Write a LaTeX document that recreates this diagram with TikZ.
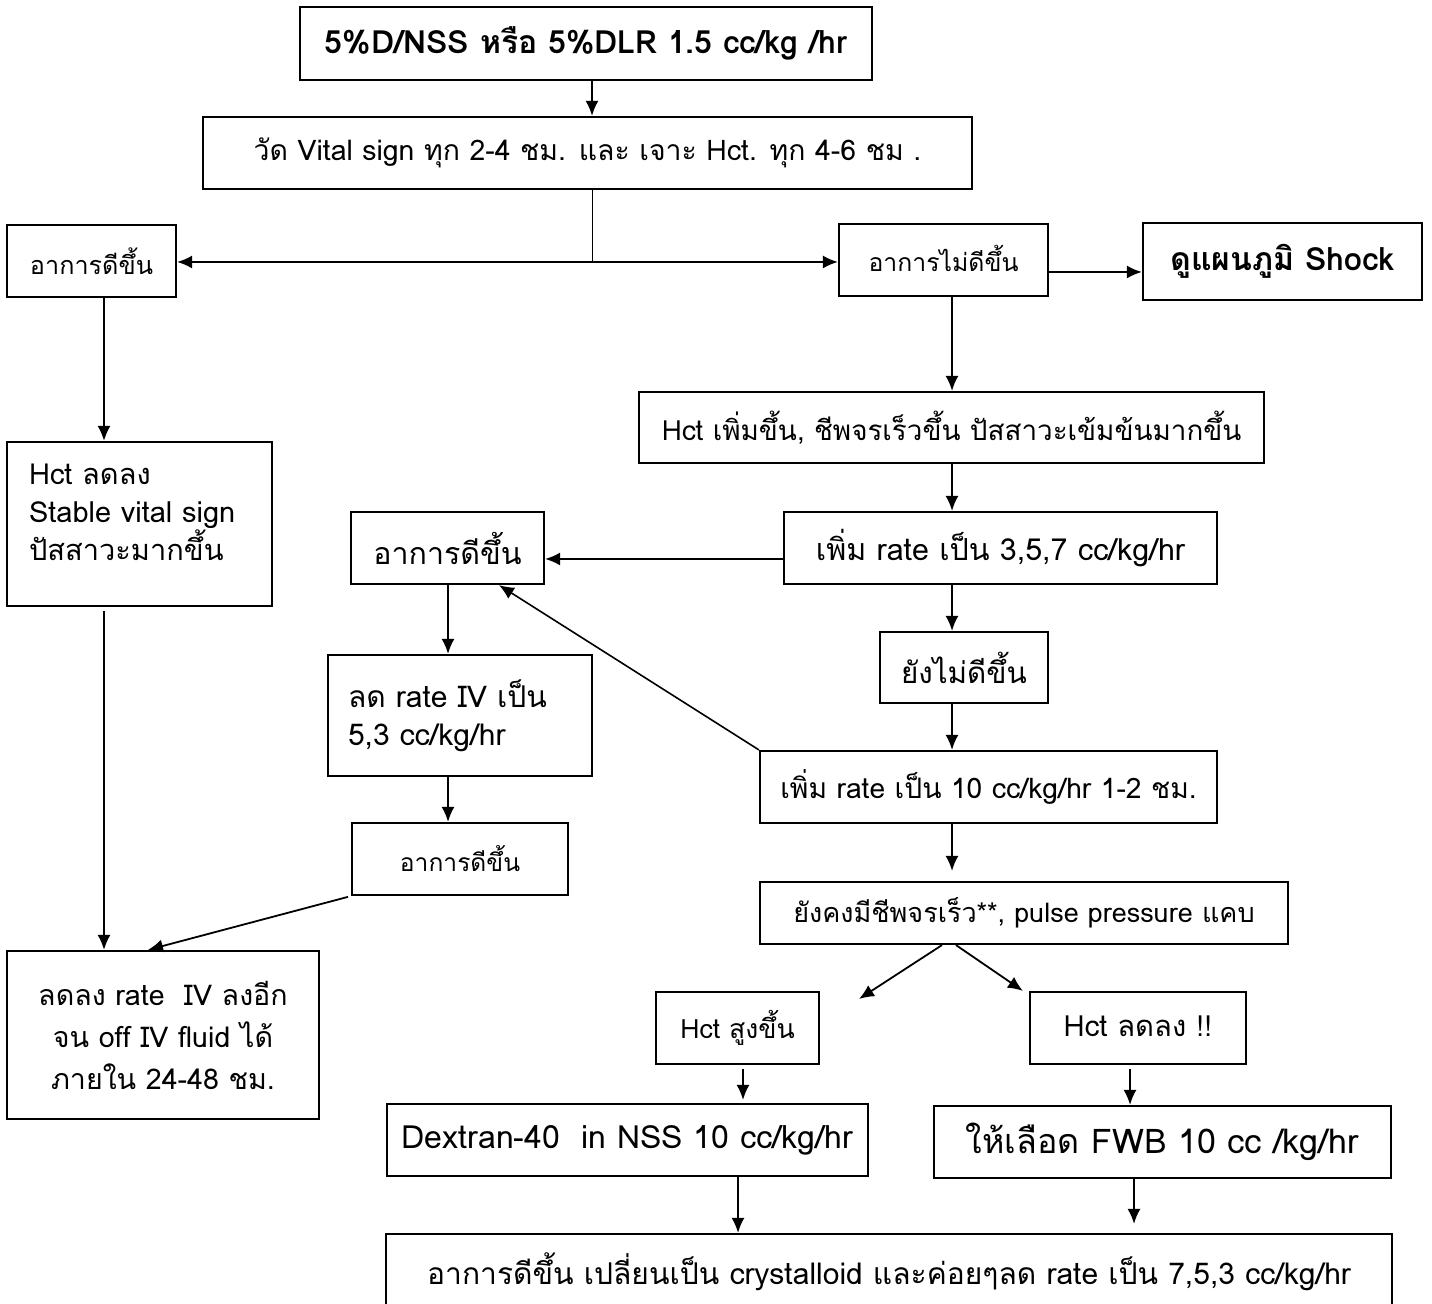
\documentclass[tikz,border=0pt]{standalone}
\usepackage{fontspec}
\setmainfont{Loma}[Script=Thai]
\usetikzlibrary{arrows.meta}

\begin{document}
\begin{tikzpicture}[x=0.5pt,y=-0.5pt,
  kotak/.style={draw, line width=1.1pt, inner sep=2pt, font=\fontsize{14.5}{19}\selectfont},
  panah/.style={-{Latex[length=7.5pt,width=6.5pt]}, line width=0.9pt}]
\useasboundingbox (0,0) rectangle (1432,1304);
\fill[white] (0,0) rectangle (1432,1304);
% kolom garis
\coordinate (xkiri) at (104,0);
\coordinate (xtengah) at (448,0);
\coordinate (cabang) at (592,262);
\coordinate (tulang) at (952,0);
\coordinate (x743) at (743,0);
\coordinate (x738) at (738,0);
\coordinate (x1130) at (1130,0);
\coordinate (x1134) at (1134,0);
\coordinate (yshock) at (0,272);
\coordinate (ybaik) at (0,559);
% kotak
\node[kotak, font=\bfseries\fontsize{16}{20}\selectfont, minimum width=286pt, minimum height=36.5pt] (atas) at (586,43.5) {5\%D/NSS หรือ 5\%DLR 1.5 cc/kg /hr};
\node[kotak, font=\fontsize{14.2}{18}\selectfont, minimum width=384.5pt, minimum height=36pt] (vital) at (587.5,153) {วัด Vital sign ทุก 2-4 ชม. และ เจาะ Hct. ทุก 4-6 ชม .};
\node[kotak, font=\fontsize{12.6}{16}\selectfont, minimum width=84.5pt, minimum height=36pt] (baik1) at (91.5,261) {อาการดีขึ้น};
\node[kotak, font=\fontsize{12.4}{16}\selectfont, minimum width=104.5pt, minimum height=36pt] (takbaik) at (943.5,260) {\raisebox{2pt}{อาการไม่ดีขึ้น}};
\node[kotak, font=\bfseries\fontsize{16}{20}\selectfont, minimum width=139.5pt, minimum height=38.5pt] (shock) at (1282.5,261.5) {\raisebox{2pt}{ดูแผนภูมิ Shock}};
\node[kotak, minimum width=132.5pt, minimum height=82pt, align=left, text width=110.5pt, inner xsep=11pt] (hctturun) at (139.5,524) {Hct ลดลง\\Stable vital sign\\ปัสสาวะมากขึ้น\\[-7pt]\mbox{}};
\node[kotak, font=\fontsize{13.9}{18}\selectfont, minimum width=312.5pt, minimum height=35.5pt] (hctnaik) at (951.5,427.5) {Hct เพิ่มขึ้น, ชีพจรเร็วขึ้น ปัสสาวะเข้มข้นมากขึ้น};
\node[kotak, font=\fontsize{15.2}{19}\selectfont, minimum width=216.5pt, minimum height=36pt] (rate357) at (1000.5,548) {เพิ่ม rate เป็น 3,5,7 cc/kg/hr};
\node[kotak, font=\fontsize{15.2}{19}\selectfont, minimum width=96.5pt, minimum height=36pt] (baik2) at (447.5,548) {อาการดีขึ้น};
\node[kotak, font=\fontsize{14.8}{19}\selectfont, minimum width=84pt, minimum height=35.5pt] (belum) at (964,667.5) {ยังไม่ดีขึ้น};
\node[kotak, font=\fontsize{15}{19}\selectfont, minimum width=132pt, minimum height=60.5pt, align=left, text width=112pt, inner xsep=10pt] (ratekurang) at (460,715.5) {ลด rate IV เป็น\\5,3 cc/kg/hr};
\node[kotak, font=\fontsize{14.1}{18}\selectfont, minimum width=228.5pt, minimum height=36pt] (rate10) at (988.5,787) {เพิ่ม rate เป็น 10 cc/kg/hr 1-2 ชม.};
\node[kotak, font=\fontsize{12.3}{16}\selectfont, minimum width=108pt, minimum height=36pt] (baik3) at (460,859) {อาการดีขึ้น};
\node[kotak, font=\fontsize{14.3}{21}\selectfont, minimum width=156pt, minimum height=84pt, align=center] (turunlagi) at (163,1035) {ลดลง rate~ IV ลงอีก\\จน off IV fluid ได้\\ภายใน 24-48 ชม.};
\node[kotak, font=\fontsize{13.5}{17}\selectfont, minimum width=264pt, minimum height=31pt] (nadi) at (1024,913) {ยังคงมีชีพจรเร็ว**, pulse pressure แคบ};
\node[kotak, font=\fontsize{13.3}{17}\selectfont, minimum width=81.5pt, minimum height=36pt] (hcttinggi) at (737.5,1028) {\raisebox{1.5pt}{Hct สูงขึ้น}};
\node[kotak, font=\fontsize{14.6}{19}\selectfont, minimum width=108pt, minimum height=36pt] (hctrendah) at (1138,1028) {\raisebox{1.5pt}{Hct ลดลง !!}};
\node[kotak, font=\fontsize{16}{20}\selectfont, minimum width=240.5pt, minimum height=36pt] (dextran) at (627.5,1140) {Dextran-40~ in NSS 10 cc/kg/hr};
\node[kotak, font=\fontsize{17}{21}\selectfont, minimum width=228.5pt, minimum height=36pt] (fwb) at (1162.5,1142) {ให้เลือด FWB 10 cc /kg/hr};
\node[kotak, font=\fontsize{15}{19}\selectfont, minimum width=503pt, minimum height=38pt] (akhir) at (889,1272) {อาการดีขึ้น เปลี่ยนเป็น crystalloid และค่อยๆลด rate เป็น 7,5,3 cc/kg/hr};
% panah atas
\draw[panah] (atas.south -| cabang) -- (vital.north -| cabang);
\draw[line width=0.5pt] (vital.south -| cabang) -- (cabang);
\draw[panah] (cabang) -- (cabang -| baik1.east);
\draw[panah] (cabang) -- (cabang -| takbaik.west);
\draw[panah] (takbaik.east |- yshock) -- (shock.west |- yshock);
% sisi kiri
\draw[panah] (baik1.south -| xkiri) -- (hctturun.north -| xkiri);
\draw[panah, shorten <=2pt] (hctturun.south -| xkiri) -- (turunlagi.north -| xkiri);
% sisi kanan
\draw[panah] (takbaik.south -| tulang) -- (hctnaik.north -| tulang);
\draw[panah] (hctnaik.south -| tulang) -- (rate357.north -| tulang);
\draw[panah] (rate357.south -| tulang) -- (belum.north -| tulang);
\draw[panah] (belum.south -| tulang) -- (rate10.north -| tulang);
\draw[panah, shorten >=5pt] (rate10.south -| tulang) -- (nadi.north -| tulang);
\draw[panah] (rate357.west |- ybaik) -- (baik2.east |- ybaik);
\draw[panah, line width=0.8pt] (rate10.north west) -- ([xshift=25.75pt]baik2.south);
% tengah
\draw[panah] (baik2.south -| xtengah) -- (ratekurang.north -| xtengah);
\draw[panah] (ratekurang.south -| xtengah) -- (baik3.north -| xtengah);
\draw[panah, shorten <=1.5pt] (baik3.south west) -- ([xshift=-7.5pt]turunlagi.north);
% cabang bawah
\coordinate (ujungkiri) at (859,999);
\draw[panah] ([xshift=-5pt]nadi.south -| tulang) -- (ujungkiri);
\draw[panah] ([xshift=2pt]nadi.south -| tulang) -- ([xshift=-3pt]hctrendah.north west);
\draw[panah, shorten <=2pt, shorten >=1.5pt] (hcttinggi.south -| x743) -- (dextran.north -| x743);
\draw[panah, shorten <=2pt] (hctrendah.south -| x1130) -- (fwb.north -| x1130);
\draw[panah] (dextran.south -| x738) -- (akhir.north -| x738);
\draw[panah, shorten >=4.5pt] (fwb.south -| x1134) -- (akhir.north -| x1134);
\end{tikzpicture}
\end{document}
